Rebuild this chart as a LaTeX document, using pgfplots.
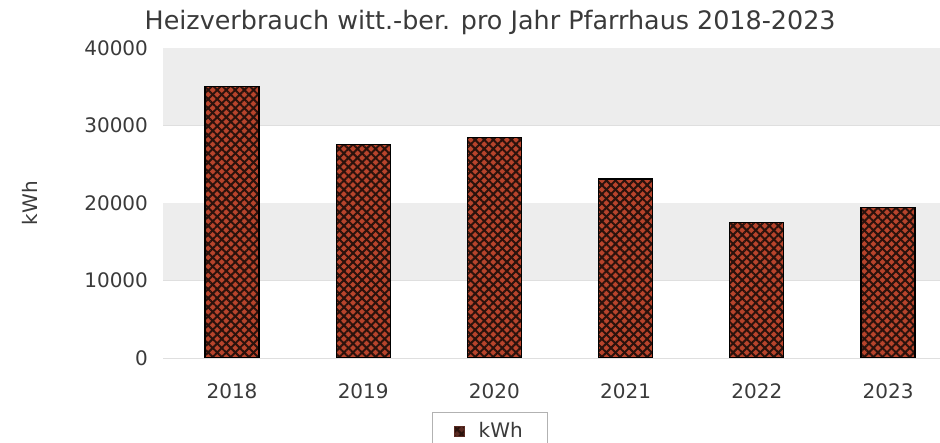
\documentclass[border=0pt]{standalone}
\usepackage{pgfplots}
\pgfplotsset{compat=1.18}
\usepackage{fontspec}
\setmainfont{DejaVu Sans}
\usetikzlibrary{patterns.meta}
\definecolor{barred}{HTML}{B8442C}
\definecolor{hatch}{HTML}{2A120C}
\definecolor{band}{HTML}{EDEDED}
\definecolor{txt}{HTML}{3A3A3A}
\definecolor{legsq}{HTML}{5A2A22}
\begin{document}
\begin{tikzpicture}
\path[use as bounding box] (0,0) rectangle (470pt,221.5pt);
\begin{axis}[
  at={(81.5pt,42.5pt)}, anchor=south west,
  scale only axis, width=388.5pt, height=155pt,
  xmin=-0.526, xmax=5.396, ymin=0, ymax=40000,
  ybar, bar width=27pt, bar shift=0pt,
  xtick={0,1,2,3,4,5},
  xticklabels={2018,2019,2020,2021,2022,2023},
  ytick={0,10000,20000,30000,40000},
  scaled y ticks=false,
  /pgf/number format/assume math mode=true,
  yticklabel={\pgfmathprintnumber[fixed,1000 sep={}]{\tick}},
  tick style={draw=none},
  major tick length=0pt,
  axis line style={draw=none},
  ymajorgrids, grid style={draw=gray!25, line width=0.4pt},
  ticklabel style={font=\fontsize{10}{12}\selectfont, text=txt},
  yticklabel style={xshift=-4pt},
  xticklabel style={yshift=-9.5pt},
  ylabel={kWh},
  ylabel style={at={(axis description cs:-0.1712,0.5)}, anchor=center, font=\fontsize{10}{12}\selectfont, text=txt},
  title={Heizverbrauch witt.-ber. pro Jahr Pfarrhaus 2018-2023},
  title style={at={(axis description cs:0.421,1)}, anchor=base, yshift=3pt, font=\fontsize{12.7}{14}\selectfont, text=txt},
  legend style={at={(axis description cs:0.421,-0.174)}, anchor=north, draw=gray!60, font=\fontsize{10}{12}\selectfont, text=txt, inner xsep=10.5pt, inner ysep=3pt},
  legend image code/.code={\fill[legsq,draw=none] (0pt,-2.5pt) rectangle (5pt,2.5pt);},
]
\fill[band] (axis cs:-1,30000) rectangle (axis cs:6,40000);
\fill[band] (axis cs:-1,10000) rectangle (axis cs:6,20000);
\addplot[draw=black, line width=0.6pt, fill=barred,
  postaction={pattern={Lines[angle=45,distance=3.2pt,line width=1pt]}, pattern color=hatch},
  postaction={pattern={Lines[angle=-45,distance=3.2pt,line width=1pt]}, pattern color=hatch}]
  coordinates {(0,35000) (1,27500) (2,28400) (3,23100) (4,17500) (5,19400)};
\addlegendentry{\hspace{5pt}kWh}
\end{axis}
\end{tikzpicture}
\end{document}
